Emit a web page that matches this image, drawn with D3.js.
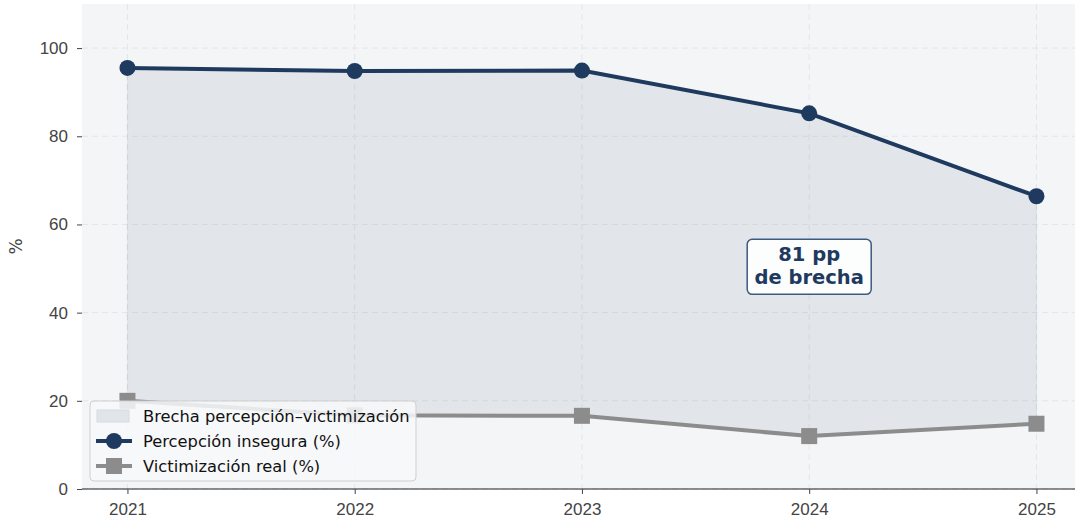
<!DOCTYPE html>
<html>
<head>
<meta charset="utf-8">
<script src="https://cdn.jsdelivr.net/npm/d3@7"></script>
<style>
  body { margin: 0; background: #fff; }
  svg { font-family: "DejaVu Sans", sans-serif; display: block; }
</style>
</head>
<body>
<div id="chart"></div>
<script>
/* data */
const years = [2021, 2022, 2023, 2024, 2025];
const percepcion = [95.5, 94.8, 94.9, 85.2, 66.4];
const victimizacion = [20.0, 16.7, 16.6, 12.0, 14.8];
const yTicks = [0, 20, 40, 60, 80, 100];

/* svg size */
const width = 1075;
const height = 522;
const margin = { top: 4, right: 0, bottom: 33, left: 82 };

const x = d3.scaleLinear()
    .domain([2020.8, 2025.2])
    .range([margin.left, margin.left + (1036 - 127) / 4 * 4.4]);

const y = d3.scaleLinear()
    .domain([0, 110])
    .range([height - margin.bottom, margin.top]);

const svg = d3.select("#chart").append("svg")
    .attr("width", width)
    .attr("height", height);

// axes background
svg.append("rect")
    .attr("x", margin.left)
    .attr("y", margin.top)
    .attr("width", width - margin.left)
    .attr("height", y(0) - margin.top)
    .attr("fill", "#f4f5f7");

// grid
svg.append("g").selectAll("line")
    .data(yTicks)
    .join("line")
    .attr("x1", margin.left).attr("x2", width)
    .attr("y1", d => y(d)).attr("y2", d => y(d))
    .attr("stroke", "#e3e5e9").attr("stroke-width", 1)
    .attr("stroke-dasharray", "6,4");

svg.append("g").selectAll("line")
    .data(years)
    .join("line")
    .attr("x1", d => x(d)).attr("x2", d => x(d))
    .attr("y1", margin.top).attr("y2", y(0))
    .attr("stroke", "#e3e5e9").attr("stroke-width", 1)
    .attr("stroke-dasharray", "6,4");

// gap area
const pts = years.map((d, i) => ({ year: d, hi: percepcion[i], lo: victimizacion[i] }));

svg.append("path")
    .datum(pts)
    .attr("d", d3.area()
        .x(d => x(d.year))
        .y0(d => y(d.lo))
        .y1(d => y(d.hi)))
    .attr("fill", "#1f3a5f")
    .attr("fill-opacity", 0.08)
    .attr("stroke", "#1f3a5f")
    .attr("stroke-opacity", 0.05)
    .attr("stroke-width", 1.5);

// victimizacion line
svg.append("path")
    .datum(pts)
    .attr("d", d3.line().x(d => x(d.year)).y(d => y(d.lo)))
    .attr("fill", "none")
    .attr("stroke", "#8c8c8c")
    .attr("stroke-width", 4);

svg.append("g").selectAll("rect")
    .data(pts)
    .join("rect")
    .attr("x", d => x(d.year) - 8)
    .attr("y", d => y(d.lo) - 8)
    .attr("width", 16).attr("height", 16)
    .attr("fill", "#8c8c8c");

// percepcion line
svg.append("path")
    .datum(pts)
    .attr("d", d3.line().x(d => x(d.year)).y(d => y(d.hi)))
    .attr("fill", "none")
    .attr("stroke", "#1f3a5f")
    .attr("stroke-width", 4);

svg.append("g").selectAll("circle")
    .data(pts)
    .join("circle")
    .attr("cx", d => x(d.year))
    .attr("cy", d => y(d.hi))
    .attr("r", 8)
    .attr("fill", "#1f3a5f");

// axes
const xAxis = d3.axisBottom(x)
    .tickValues(years)
    .tickFormat(d3.format("d"))
    .tickSize(5)
    .tickSizeOuter(0)
    .tickPadding(9);

const yAxis = d3.axisLeft(y)
    .tickValues(yTicks)
    .tickSize(5)
    .tickPadding(9);

const gx = svg.append("g")
    .attr("transform", `translate(0,${y(0)})`)
    .call(xAxis);
gx.select(".domain").attr("stroke", "#222").attr("stroke-width", 1.2)
    .attr("d", `M${margin.left},0H${width}`);
gx.selectAll(".tick line").attr("stroke", "#444");
gx.selectAll("text").attr("font-size", 17).attr("fill", "#444");

const gy = svg.append("g")
    .attr("transform", `translate(${margin.left},0)`)
    .call(yAxis);
gy.select(".domain").remove();
gy.selectAll(".tick line").attr("stroke", "#444");
gy.selectAll("text").attr("font-size", 17).attr("fill", "#444");

svg.append("text")
    .attr("transform", `translate(22,${y(55)}) rotate(-90)`)
    .attr("text-anchor", "middle")
    .attr("font-size", 17)
    .attr("fill", "#444")
    .text("%");

// annotation
const note = svg.append("g").attr("transform", `translate(${x(2024)},${y(50.5)})`);
note.append("rect")
    .attr("x", -62).attr("y", -27)
    .attr("width", 124).attr("height", 55)
    .attr("rx", 5)
    .attr("fill", "#ffffff")
    .attr("fill-opacity", 0.9)
    .attr("stroke", "#3d5a80")
    .attr("stroke-width", 1.5);
note.append("text")
    .attr("text-anchor", "middle")
    .attr("font-size", 19.5)
    .attr("font-weight", "bold")
    .attr("fill", "#1f3a5f")
    .selectAll("tspan")
    .data(["81 pp", "de brecha"])
    .join("tspan")
    .attr("x", 0)
    .attr("y", (d, i) => -5 + i * 23)
    .text(d => d);

// legend
const legend = svg.append("g").attr("transform", "translate(90,401)");
legend.append("rect")
    .attr("width", 326).attr("height", 80)
    .attr("rx", 4)
    .attr("fill", "#f7f8fa")
    .attr("fill-opacity", 0.85)
    .attr("stroke", "#cfcfcf");

const items = [
    { label: "Brecha percepción–victimización", type: "area" },
    { label: "Percepción insegura (%)", type: "circle" },
    { label: "Victimización real (%)", type: "square" }
];

const li = legend.selectAll("g.item")
    .data(items)
    .join("g")
    .attr("class", "item")
    .attr("transform", (d, i) => `translate(0,${15 + i * 25})`);

li.filter(d => d.type === "area").append("rect")
    .attr("x", 7).attr("y", -6).attr("width", 32).attr("height", 12)
    .attr("fill", "#e1e5ea").attr("stroke", "#d6dbe1");

li.filter(d => d.type !== "area").append("line")
    .attr("x1", 6).attr("x2", 42)
    .attr("stroke", d => d.type === "circle" ? "#1f3a5f" : "#8c8c8c")
    .attr("stroke-width", 4);

li.filter(d => d.type === "circle").append("circle")
    .attr("cx", 24).attr("r", 8).attr("fill", "#1f3a5f");

li.filter(d => d.type === "square").append("rect")
    .attr("x", 16).attr("y", -8).attr("width", 16).attr("height", 16)
    .attr("fill", "#8c8c8c");

li.append("text")
    .attr("x", 53)
    .attr("dy", "0.35em")
    .attr("font-size", 16.3)
    .attr("fill", "#111")
    .text(d => d.label);
</script>
</body>
</html>
